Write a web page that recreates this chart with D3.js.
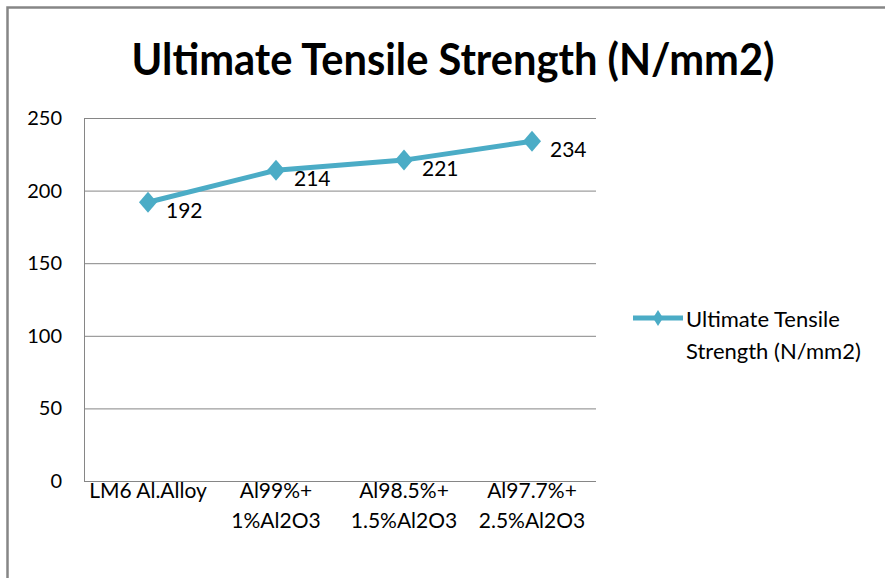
<!DOCTYPE html>
<html>
<head>
<meta charset="utf-8">
<script src="https://cdn.jsdelivr.net/npm/d3@7/dist/d3.min.js"></script>
<style>
  html, body { margin: 0; padding: 0; background: #fff; overflow: hidden; }
  svg { display: block; }
  text { font-family: Lato, "Open Sans", sans-serif; fill: #000; }
</style>
</head>
<body>
<svg id="chart" width="885" height="578"></svg>
<script>
// Ultimate tensile strength of LM6 alloy and Al2O3 composites
const categories = [
  ["LM6 Al.Alloy"],
  ["Al99%+", "1%Al2O3"],
  ["Al98.5%+", "1.5%Al2O3"],
  ["Al97.7%+", "2.5%Al2O3"]
];
const strength = [192, 214, 221, 234];
const yTicks = [0, 50, 100, 150, 200, 250];
const seriesName = ["Ultimate Tensile", "Strength (N/mm2)"];
const title = "Ultimate Tensile Strength (N/mm2)";

const color = "#4BACC6";
const svg = d3.select("#chart");

// outer chart frame: only its top and left edges fall inside the view
svg.append("path")
  .attr("d", "M7.5,578V7.5H885")
  .attr("fill", "none").attr("stroke", "#868686").attr("stroke-width", 2.5);

const plot = { left: 84, right: 596, top: 118, bottom: 481 };

const x = d3.scaleBand()
  .domain(d3.range(categories.length))
  .range([plot.left, plot.right]);
const y = d3.scaleLinear().domain([0, 250]).range([plot.bottom, plot.top]);

// title
svg.append("text")
  .attr("x", 453).attr("y", 75)
  .attr("text-anchor", "middle")
  .attr("font-size", 44).attr("font-weight", "bold")
  .attr("textLength", 643).attr("lengthAdjust", "spacingAndGlyphs")
  .text(title);

// gridlines
svg.append("g")
  .selectAll("line")
  .data(yTicks)
  .join("line")
  .attr("x1", plot.left).attr("x2", plot.right)
  .attr("y1", d => y(d) + 0.5).attr("y2", d => y(d) + 0.5)
  .attr("stroke", "#868686").attr("stroke-width", 1);

// y axis line
svg.append("line")
  .attr("x1", plot.left + 0.5).attr("x2", plot.left + 0.5)
  .attr("y1", plot.top).attr("y2", plot.bottom)
  .attr("stroke", "#868686");

// y axis labels
const yAxis = d3.axisLeft(y).tickValues(yTicks).tickSize(0).tickPadding(22);
const gy = svg.append("g").attr("transform", `translate(${plot.left},0)`).call(yAxis);
gy.select(".domain").remove();
gy.selectAll("text")
  .attr("font-size", 20)
  .attr("font-family", "Lato, 'Open Sans', sans-serif")
  .attr("fill", "#000");

// category labels
const cx = i => x(i) + x.bandwidth() / 2;
svg.append("g")
  .selectAll("text")
  .data(categories)
  .join("text")
  .attr("text-anchor", "middle")
  .attr("font-size", 21)
  .attr("x", (d, i) => cx(i))
  .attr("y", 498)
  .each(function(d, i) {
    d3.select(this).selectAll("tspan")
      .data(d)
      .join("tspan")
      .attr("x", cx(i))
      .attr("dy", (t, j) => j === 0 ? 0 : 30)
      .text(t => t);
  });

// series line
const line = d3.line().x((d, i) => cx(i)).y(d => y(d));
svg.append("path")
  .datum(strength)
  .attr("d", line)
  .attr("fill", "none")
  .attr("stroke", color)
  .attr("stroke-width", 5)
  .attr("stroke-linejoin", "round");

// diamond markers
const diamond = (px, py, w, h) =>
  `M${px},${py - h}L${px + w},${py}L${px},${py + h}L${px - w},${py}Z`;
svg.append("g")
  .selectAll("path")
  .data(strength)
  .join("path")
  .attr("d", (d, i) => diamond(cx(i), y(d), 9, 10.5))
  .attr("fill", color);

// value labels
svg.append("g")
  .selectAll("text")
  .data(strength)
  .join("text")
  .attr("x", (d, i) => cx(i) + 18)
  .attr("y", d => y(d) + 16)
  .attr("font-size", 21)
  .text(d => d);

// legend
const lg = svg.append("g");
lg.append("line")
  .attr("x1", 633).attr("x2", 683)
  .attr("y1", 318).attr("y2", 318)
  .attr("stroke", color).attr("stroke-width", 5);
lg.append("path")
  .attr("d", diamond(658, 318, 5, 8))
  .attr("fill", color);
lg.append("text")
  .attr("x", 686).attr("y", 327)
  .attr("font-size", 22)
  .selectAll("tspan")
  .data(seriesName)
  .join("tspan")
  .attr("x", 686)
  .attr("dy", (t, j) => j === 0 ? 0 : 32)
  .text(t => t);
</script>
</body>
</html>
